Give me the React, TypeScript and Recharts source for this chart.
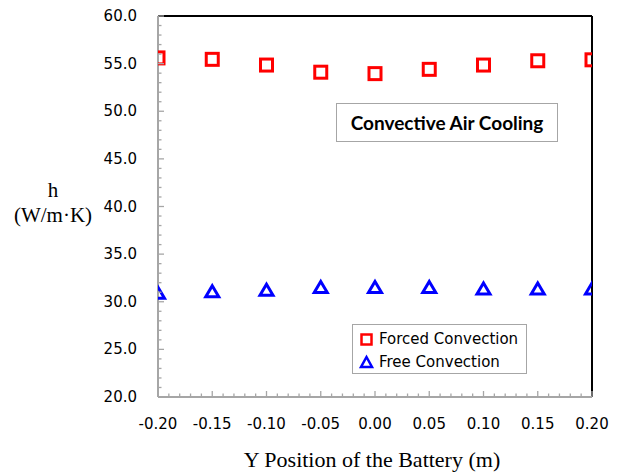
import { ReferenceLine, Scatter, ScatterChart, XAxis, YAxis } from "recharts";

const positions = [-0.2, -0.15, -0.1, -0.05, 0, 0.05, 0.1, 0.15, 0.2];
const forcedConvection = [55.6, 55.45, 54.85, 54.1, 53.95, 54.4, 54.85, 55.3, 55.4];
const freeConvection = [30.9, 31.05, 31.2, 31.5, 31.5, 31.5, 31.35, 31.35, 31.35];

const yMajorTicks = [20, 25, 30, 35, 40, 45, 50, 55, 60];
const xMajorTicks = [-0.2, -0.15, -0.1, -0.05, 0, 0.05, 0.1, 0.15, 0.2];

// minor ticks: every 1 on y, every 0.01 on x
const yTicks = Array.from({ length: 41 }, (_, i) => 20 + i);
const xTicks = Array.from({ length: 41 }, (_, i) => Math.round((-0.2 + i * 0.01) * 100) / 100);

const forcedData = positions.map((x, i) => ({ x, y: forcedConvection[i] }));
const freeData = positions.map((x, i) => ({ x, y: freeConvection[i] }));

const AXIS_GRAY = "#a6a6a6";
const TICK_FONT = "'DejaVu Sans', sans-serif";
const SERIF = "'Liberation Serif', serif";

const Y_MARGIN = 21;
const X_MARGIN = 20;

function YTick(props: any) {
  const { x, y, payload } = props;
  const major = yMajorTicks.includes(payload.value);
  const ax = x + Y_MARGIN;
  return (
    <g>
      <line x1={ax} y1={y} x2={ax + (major ? 6 : 3.5)} y2={y} stroke={AXIS_GRAY} strokeWidth={1.3} />
      {major && (
        <text x={x} y={y} dy={5} textAnchor="end" fontSize={15} fontFamily={TICK_FONT} fill="#000">
          {payload.value.toFixed(1)}
        </text>
      )}
    </g>
  );
}

function XTick(props: any) {
  const { x, y, payload } = props;
  const major = xMajorTicks.some((t) => Math.abs(t - payload.value) < 1e-6);
  const ay = y - X_MARGIN;
  return (
    <g>
      <line x1={x} y1={ay} x2={x} y2={ay - (major ? 6 : 3.5)} stroke={AXIS_GRAY} strokeWidth={1.3} />
      {major && (
        <text x={x} y={y} dy={12} textAnchor="middle" fontSize={15} fontFamily={TICK_FONT} fill="#000">
          {payload.value.toFixed(2)}
        </text>
      )}
    </g>
  );
}

function SquareMark(props: any) {
  const { cx, cy } = props;
  return <rect x={cx - 6} y={cy - 6} width={12} height={12} fill="none" stroke="#ff0000" strokeWidth={3} />;
}

function TriangleMark(props: any) {
  const { cx, cy } = props;
  return (
    <polygon
      points={`${cx},${cy - 6} ${cx + 6.5},${cy + 5} ${cx - 6.5},${cy + 5}`}
      fill="none"
      stroke="#0000ff"
      strokeWidth={3}
    />
  );
}

export default function App() {
  return (
    <div style={{ position: "absolute", left: 0, top: 0, width: 621, height: 474, background: "#fff" }}>
      <ScatterChart width={621} height={474} margin={{ top: 16, right: 29, bottom: 0, left: 0 }}>
        <ReferenceLine y={60} stroke="#000" strokeWidth={2} />
        <ReferenceLine x={0.2} stroke="#000" strokeWidth={2} />
        <XAxis
          type="number"
          dataKey="x"
          domain={[-0.2, 0.2]}
          ticks={xTicks}
          interval={0}
          height={77}
          tickSize={0}
          tickMargin={X_MARGIN}
          tick={<XTick />}
          stroke={AXIS_GRAY}
          strokeWidth={2}
          allowDataOverflow
        />
        <YAxis
          type="number"
          dataKey="y"
          domain={[20, 60]}
          ticks={yTicks}
          interval={0}
          width={158}
          tickSize={0}
          tickMargin={Y_MARGIN}
          tick={<YTick />}
          stroke={AXIS_GRAY}
          strokeWidth={2}
          allowDataOverflow
        />
        <Scatter name="Forced Convection" data={forcedData} shape={<SquareMark />} isAnimationActive={false} />
        <Scatter name="Free Convection" data={freeData} shape={<TriangleMark />} isAnimationActive={false} />
      </ScatterChart>

      <div
        style={{
          position: "absolute",
          left: 336,
          top: 103,
          width: 220,
          height: 37,
          border: `1.5px solid ${AXIS_GRAY}`,
          background: "#fff",
          display: "flex",
          alignItems: "center",
          justifyContent: "center",
          fontFamily: "Lato, sans-serif",
          fontWeight: 700,
          fontSize: 19,
        }}
      >
        Convective Air Cooling
      </div>

      <div
        style={{
          position: "absolute",
          left: 352,
          top: 324,
          width: 173,
          height: 48,
          border: `1.5px solid ${AXIS_GRAY}`,
          background: "#fff",
          fontFamily: TICK_FONT,
          fontSize: 15,
          lineHeight: "24px",
        }}
      >
        <div style={{ display: "flex", alignItems: "center", height: 24, marginTop: 2 }}>
          <svg width={26} height={24}>
            <rect x={8.5} y={7.5} width={10} height={10} fill="none" stroke="#ff0000" strokeWidth={2.5} />
          </svg>
          <span>Forced Convection</span>
        </div>
        <div style={{ display: "flex", alignItems: "center", height: 22 }}>
          <svg width={26} height={22}>
            <polygon points="13.5,6 19,16 8,16" fill="none" stroke="#0000ff" strokeWidth={2.5} />
          </svg>
          <span>Free Convection</span>
        </div>
      </div>

      <div
        style={{
          position: "absolute",
          left: 0,
          top: 180,
          width: 106,
          textAlign: "center",
          fontFamily: SERIF,
          fontSize: 21,
          lineHeight: "21px",
        }}
      >
        h
      </div>
      <div
        style={{
          position: "absolute",
          left: 0,
          top: 205,
          width: 106,
          textAlign: "center",
          fontFamily: SERIF,
          fontSize: 21,
          lineHeight: "21px",
        }}
      >
        (W/m·K)
      </div>

      <div
        style={{
          position: "absolute",
          left: 155,
          top: 447,
          width: 434,
          textAlign: "center",
          fontFamily: SERIF,
          fontSize: 22,
        }}
      >
        Y Position of the Battery (m)
      </div>
    </div>
  );
}
